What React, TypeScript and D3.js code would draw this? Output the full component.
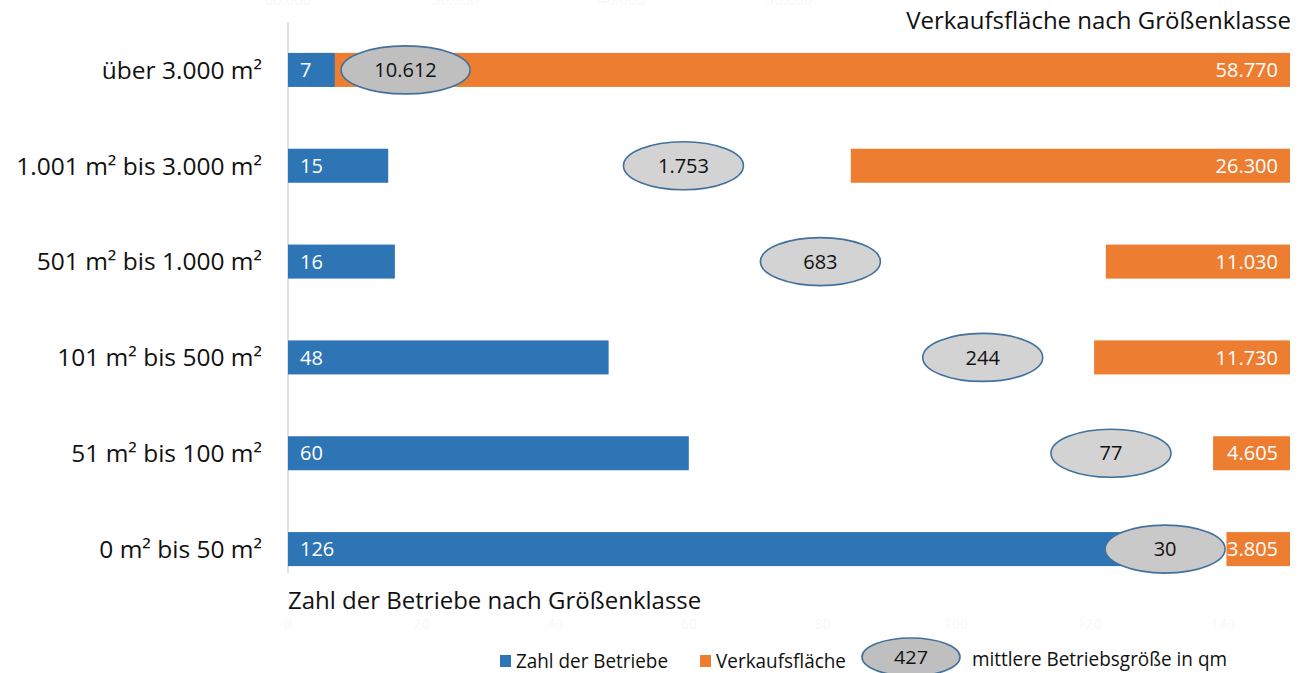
import React from 'react';
import * as d3 from 'd3';

const categories = [
  'über 3.000 m²',
  '1.001 m² bis 3.000 m²',
  '501 m² bis 1.000 m²',
  '101 m² bis 500 m²',
  '51 m² bis 100 m²',
  '0 m² bis 50 m²',
];
const betriebe = [7, 15, 16, 48, 60, 126];
const flaeche = [58770, 26300, 11030, 11730, 4605, 3805];
const mittlere = [10612, 1753, 683, 244, 77, 30];
// horizontal position of the average-size bubbles, in units of the count axis
const bubblePos = [17.6, 59.2, 79.7, 104, 123.2, 131.3];
const countTicks = [0, 20, 40, 60, 80, 100, 120, 140];
const areaTicks = [0, 10000, 20000, 30000, 40000, 50000, 60000];
const legendSample = 427;

const W = 1304;
const H = 673;
const FONT = "'Open Sans', 'DejaVu Sans', sans-serif";
const BLUE = '#2E75B6';
const ORANGE = '#ED7D31';
const BUBBLE_STROKE = '#41719C';
const bubbleFills = ['#bfbfbf', '#d3d3d3', '#d3d3d3', '#d3d3d3', '#d3d3d3', '#c9c9c9'];

const de = d3.formatLocale({ decimal: ',', thousands: '.', grouping: [3], currency: ['', ' €'] });
const fmt = de.format(',');

export default function App() {
  const left = 288;
  const right = 1290;
  const top = 22;
  const bottom = 597;

  const xCount = d3.scaleLinear().domain([0, 150]).range([left, right]);
  const xArea = d3.scaleLinear().domain([0, 60000]).range([right, left]);
  const y = d3
    .scaleBand<string>()
    .domain(categories)
    .range([top, bottom])
    .paddingInner(0.645)
    .paddingOuter(0.3225);
  const bw = y.bandwidth();

  return (
    <svg
      width={W}
      height={H}
      style={{ position: 'absolute', left: 0, top: 0, background: '#fff' }}
      fontFamily={FONT}
    >
      <rect x={0} y={0} width={W} height={H} fill="#fff" />
      {/* faint top (secondary) axis tick labels, mostly hidden */}
      {areaTicks.filter((t) => t >= 30000).map((t) => (
        <text key={'at' + t} x={xArea(t)} y={5} textAnchor="middle" fontSize={15} fill="#f8f8f8">
          {fmt(t)}
        </text>
      ))}
      {/* faint bottom axis tick labels */}
      {countTicks.map((t) => (
        <text key={'ct' + t} x={xCount(t)} y={629} textAnchor="middle" fontSize={14} fill="#f8f8f8">
          {fmt(t)}
        </text>
      ))}

      {/* left axis line */}
      <line x1={left} x2={left} y1={top} y2={bottom - 24} stroke="#d9d9d9" strokeWidth={1.5} />

      {/* orange bars (reversed secondary axis) */}
      {categories.map((c, i) => (
        <rect
          key={'o' + i}
          x={xArea(flaeche[i])}
          y={y(c)}
          width={right - xArea(flaeche[i])}
          height={bw}
          fill={ORANGE}
        />
      ))}
      {/* blue bars */}
      {categories.map((c, i) => (
        <rect
          key={'b' + i}
          x={xCount(0)}
          y={y(c)}
          width={xCount(betriebe[i]) - xCount(0)}
          height={bw}
          fill={BLUE}
        />
      ))}
      {/* blue labels */}
      {categories.map((c, i) => (
        <text
          key={'bl' + i}
          x={xCount(0) + 12}
          y={(y(c) as number) + bw / 2}
          dy="0.36em"
          fontSize={20}
          fill="#fff"
        >
          {fmt(betriebe[i])}
        </text>
      ))}
      {/* orange labels */}
      {categories.map((c, i) => (
        <text
          key={'ol' + i}
          x={right - 12}
          y={(y(c) as number) + bw / 2}
          dy="0.36em"
          textAnchor="end"
          fontSize={20}
          fill="#fff"
        >
          {fmt(flaeche[i])}
        </text>
      ))}
      {/* bubbles */}
      {categories.map((c, i) => {
        const label = fmt(mittlere[i]);
        const rx = label.length > 5 ? 64.5 : 60;
        const cy = (y(c) as number) + bw / 2;
        return (
          <g key={'e' + i}>
            <ellipse
              cx={xCount(bubblePos[i])}
              cy={cy}
              rx={rx}
              ry={24}
              fill={bubbleFills[i]}
              stroke={BUBBLE_STROKE}
              strokeWidth={1.6}
            />
            <text x={xCount(bubblePos[i])} y={cy} dy="0.36em" textAnchor="middle" fontSize={20} fill="#111">
              {label}
            </text>
          </g>
        );
      })}

      {/* category labels */}
      {categories.map((c) => (
        <text
          key={'cl' + c}
          x={262}
          y={(y(c) as number) + bw / 2}
          dy="0.36em"
          textAnchor="end"
          fontSize={24.5}
          fill="#111"
        >
          {c}
        </text>
      ))}

      {/* axis titles */}
      <text x={1291} y={29} textAnchor="end" fontSize={24} fill="#111">
        Verkaufsfläche nach Größenklasse
      </text>
      <text x={288} y={609} fontSize={24} fill="#111">
        Zahl der Betriebe nach Größenklasse
      </text>

      {/* legend */}
      <rect x={500} y={655} width={11} height={12} fill={BLUE} />
      <text x={516} y={668} fontSize={20} fill="#111" textLength={152} lengthAdjust="spacingAndGlyphs">
        Zahl der Betriebe
      </text>
      <rect x={700} y={655} width={11} height={12} fill={ORANGE} />
      <text x={716} y={668} fontSize={20} fill="#111" textLength={130} lengthAdjust="spacingAndGlyphs">
        Verkaufsfläche
      </text>
      <ellipse cx={911} cy={657} rx={49} ry={19} fill="#bfbfbf" stroke={BUBBLE_STROKE} strokeWidth={1.6} />
      <text x={911} y={657} dy="0.36em" textAnchor="middle" fontSize={19} fill="#111" textLength={34} lengthAdjust="spacingAndGlyphs">
        {legendSample}
      </text>
      <text x={972} y={666} fontSize={20} fill="#111" textLength={255} lengthAdjust="spacingAndGlyphs">
        mittlere Betriebsgröße in qm
      </text>
    </svg>
  );
}
